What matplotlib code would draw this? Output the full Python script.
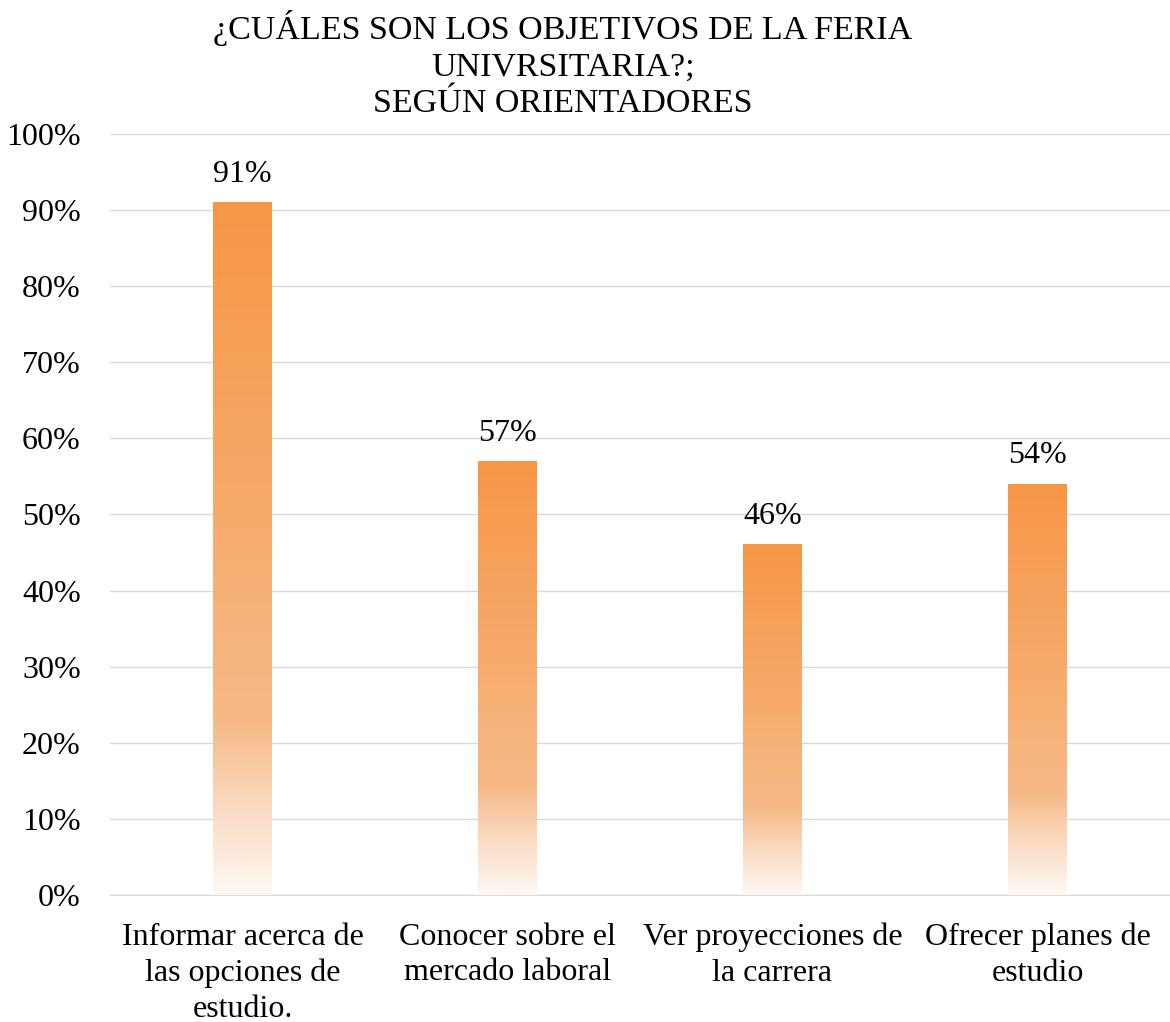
import numpy as np
import matplotlib
matplotlib.use("Agg")
import matplotlib.pyplot as plt
from matplotlib.colors import LinearSegmentedColormap
from matplotlib.ticker import FuncFormatter

# Data
categorias = ["Informar acerca de\nlas opciones de\nestudio.",
              "Conocer sobre el\nmercado laboral",
              "Ver proyecciones de\nla carrera",
              "Ofrecer planes de\nestudio"]
valores = [91, 57, 46, 54]
titulo = "¿CUÁLES SON LOS OBJETIVOS DE LA FERIA\nUNIVRSITARIA?;\nSEGÚN ORIENTADORES"

plt.rcParams['font.family'] = ['Liberation Serif', 'DejaVu Serif']

# gradient: pale at bottom, orange at top
grad = LinearSegmentedColormap.from_list("naranja", [
    (0.00, "#fef8f2"),
    (0.12, "#fadcc4"),
    (0.25, "#f6b986"),
    (1.00, "#f79646"),
])

fig = plt.figure(figsize=(11.7, 10.22), dpi=100)
ax = fig.add_axes([0.094, 0.1243, 0.906, 0.7446])

ancho = 0.22
x = np.arange(len(categorias))
bars = ax.bar(x, valores, width=ancho, color="none", zorder=3)

g = np.linspace(0, 1, 256).reshape(-1, 1)
for b in bars:
    x0 = b.get_x()
    h = b.get_height()
    ax.imshow(g, cmap=grad, origin="lower", aspect="auto",
              extent=[x0, x0 + ancho, 0, h], zorder=3, interpolation="bilinear")
    ax.text(b.get_x() + ancho / 2, h + 1.8, f"{h:.0f}%", ha="center", va="bottom",
            fontsize=23, color="#000000")

ax.set_xlim(-0.5, len(categorias) - 0.5)
ax.set_ylim(0, 100)
ax.set_yticks(range(0, 101, 10))
ax.yaxis.set_major_formatter(FuncFormatter(lambda v, p: f"{v:.0f}%"))
ax.set_xticks(x)
ax.set_xticklabels(categorias, fontsize=23, linespacing=1.3)
ax.tick_params(axis="y", labelsize=23, length=0, pad=21)
ax.tick_params(axis="x", length=0, pad=20)
ax.grid(axis="y", color="#d9d9d9", linewidth=1.0, zorder=0)
ax.set_axisbelow(True)
for s in ["top", "right", "left"]:
    ax.spines[s].set_visible(False)
ax.spines["bottom"].set_color("#d9d9d9")

fig.text(0.481, 0.990, titulo, ha="center", va="top", fontsize=24.5,
         linespacing=1.25)

fig.savefig("out.png", dpi=100)
